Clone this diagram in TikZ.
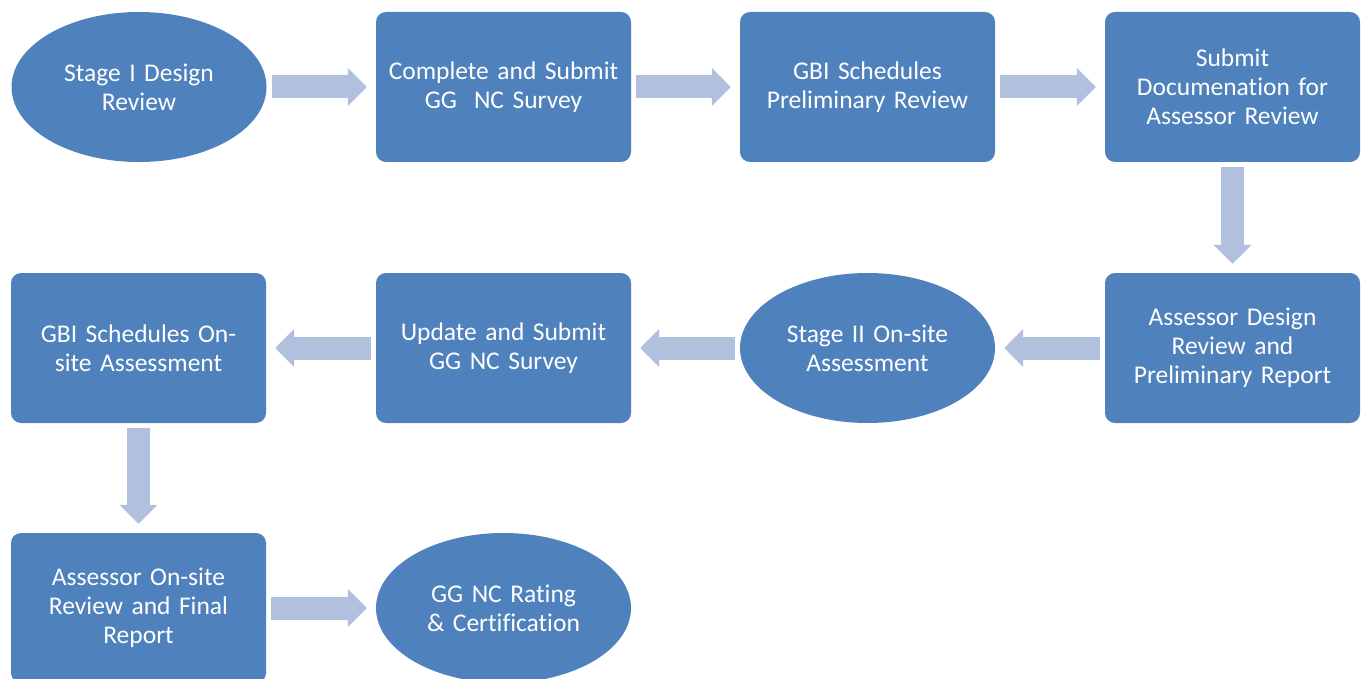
\documentclass[tikz,border=0pt]{standalone}
\usepackage{fontspec}
\setmainfont{Carlito}[Ligatures=NoCommon]
\usetikzlibrary{shapes.geometric,arrows.meta}
\definecolor{boxblue}{HTML}{4F81BD}
\definecolor{arrowblue}{HTML}{B1C1DD}
\tikzset{
  x=1pt,y=-1pt,
  base/.style={fill=boxblue,draw=none,text=white,minimum width=255pt,minimum height=150pt,
    inner sep=0pt,align=center,font=\fontsize{25.5}{28.8}\selectfont},
  flowbox/.style={base,rectangle,rounded corners=10pt,text width=245pt},
  flowoval/.style={base,ellipse,text width=176pt},
  flowarrow/.style={draw=arrowblue,line width=23pt,
    -{Triangle[length=19pt,width=37pt]},shorten <=5pt,shorten >=9pt},
}
\begin{document}
\begin{tikzpicture}
\useasboundingbox (0,0) rectangle (1367,679);
\clip (0,0) rectangle (1367,679);
% row 1
\node[flowoval] (n1) at (139,87) {Stage I Design\\Review};
\node[flowbox] (n2) at (503.5,87) {Complete and Submit\\GG\ \ NC Survey};
\node[flowbox] (n3) at (867.5,87) {GBI Schedules\\Preliminary Review};
\node[flowbox] (n4) at (1232.5,87) {Submit\\Documenation for\\Assessor Review};
% row 2
\node[flowbox] (n5) at (1232.5,348) {Assessor Design\\Review and\\Preliminary Report};
\node[flowoval] (n6) at (867.5,348) {Stage II On-site\\Assessment};
\node[flowbox] (n7) at (503.5,348) {Update and Submit\\GG NC Survey};
\node[flowbox] (n8) at (138.5,348) {GBI Schedules On-\\site Assessment};
% row 3
\node[flowbox] (n9) at (138.5,608) {Assessor On-site\\Review and Final\\Report};
\node[flowoval] (n10) at (503.5,608) {GG NC Rating\\\& Certification};
% arrows
\draw[flowarrow] (n1.east) -- (n2.west);
\draw[flowarrow] (n2.east) -- (n3.west);
\draw[flowarrow] (n3.east) -- (n4.west);
\draw[flowarrow] (n4.south) -- (n5.north);
\draw[flowarrow] (n5.west) -- (n6.east);
\draw[flowarrow] (n6.west) -- (n7.east);
\draw[flowarrow] (n7.west) -- (n8.east);
\draw[flowarrow] (n8.south) -- (n9.north);
\draw[flowarrow] (n9.east) -- (n10.west);
\end{tikzpicture}
\end{document}
